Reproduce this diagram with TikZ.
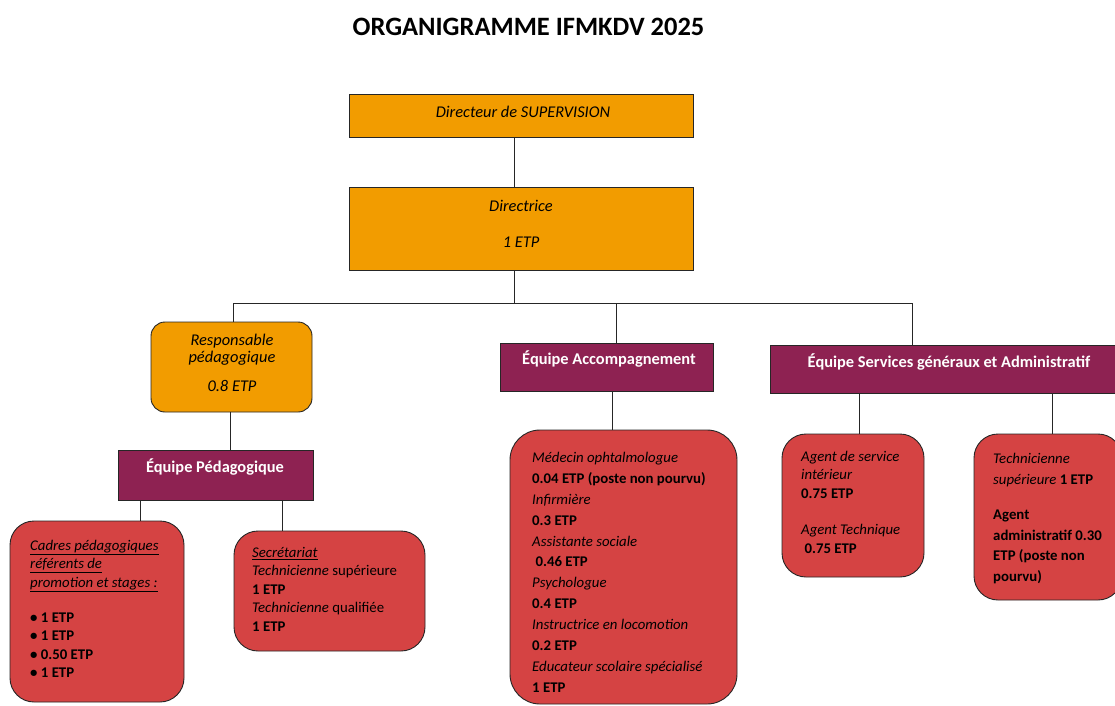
\documentclass[tikz,border=0pt]{standalone}
\usepackage{fontspec}
\setmainfont{Carlito}
\usetikzlibrary{positioning}
\definecolor{corange}{HTML}{F29C00}
\definecolor{cpurple}{HTML}{8E2252}
\definecolor{cred}{HTML}{D54343}
\definecolor{cline}{HTML}{262626}
\newcommand\tightlines{\lineskiplimit=-30pt\relax}

\tikzset{
  box/.style={draw=cline, line width=0.9pt, inner sep=0pt},
  orangebox/.style={box, fill=corange},
  purplebox/.style={box, fill=cpurple},
  redbox/.style={box, fill=cred, rounded corners=24pt},
  txt/.style={inner sep=0pt, align=left, anchor=north west, font={\fontsize{14.8}{18.5}\selectfont\tightlines}},
  ctxt/.style={inner sep=0pt, align=center, anchor=north, font={\fontsize{16.4}{14}\selectfont\tightlines\itshape}},
  head/.style={inner sep=0pt, text=white, font={\fontsize{16.4}{18}\selectfont\bfseries}},
  link/.style={draw=cline, line width=0.9pt},
}

\begin{document}
\begin{tikzpicture}[x=1pt, y=-1pt]
  \useasboundingbox[fill=white] (0,0) rectangle (1115,705);
  \clip (0,0) rectangle (1115,705);

  % title
  \node[font=\fontsize{26.5}{30}\selectfont\bfseries] (title) at (528.5,27) {ORGANIGRAMME IFMKDV 2025};

  % direction
  \node[orangebox, minimum width=344pt, minimum height=43pt] (dir) at (521,115.5) {};
  \node[ctxt] (dirtxt) at (523,106) {Directeur de SUPERVISION};
  \node[orangebox, minimum width=344pt, minimum height=83pt] (dirce) at (521,228.5) {};
  \node[ctxt] (dircetxt) at (521,200) {Directrice\\[22pt]1 ETP};

  % left branch
  \node[orangebox, rounded corners=14pt, minimum width=161pt, minimum height=90pt] (resp) at (231.5,367) {};
  \node[ctxt, font={\fontsize{16.4}{16.5}\selectfont\tightlines\itshape}] (resptxt) at (232,334) {Responsable\\pédagogique\\[12.5pt]0.8 ETP};
  \node[purplebox, minimum width=195pt, minimum height=50pt] (eqped) at (215.5,475) {};
  \node[head] (eqpedtxt) at (215,467) {Équipe Pédagogique};
  \node[redbox, minimum width=174pt, minimum height=181pt] (cadres) at (97,611.5) {};
  \node[txt] (cadrestxt) at (30,540) {\itshape\underline{Cadres pédagogiques}\\
    \itshape\underline{référents de}\\
    \itshape\underline{promotion et stages :}\\[16.5pt]
    \textbf{• 1 ETP}\\ \textbf{• 1 ETP}\\ \textbf{• 0.50 ETP}\\ \textbf{• 1 ETP}};
  \node[redbox, minimum width=191pt, minimum height=120pt] (secr) at (329.5,591) {};
  \node[txt] (secrtxt) at (252,547) {\textit{\underline{Secrétariat}}\\
    \textit{Technicienne} supérieure\\ \textbf{1 ETP}\\
    \textit{Technicienne} qualifiée\\ \textbf{1 ETP}};

  % middle branch
  \node[purplebox, minimum width=213pt, minimum height=48pt] (eqacc) at (606.5,367) {};
  \node[head] (eqacctxt) at (609,359) {Équipe Accompagnement};
  \node[redbox, rounded corners=30pt, minimum width=227pt, minimum height=274pt] (acc) at (623.5,567) {};
  \node[txt, font={\fontsize{14.8}{20.9}\selectfont}] (acctxt) at (532,452) {\textit{Médecin ophtalmologue}\\
    \textbf{0.04 ETP (poste non pourvu)}\\ \textit{Infirmière}\\ \textbf{0.3 ETP}\\
    \textit{Assistante sociale}\\ \textbf{\ 0.46 ETP}\\ \textit{Psychologue}\\ \textbf{0.4 ETP}\\
    \textit{Instructrice en locomotion}\\ \textbf{0.2 ETP}\\
    \textit{Educateur scolaire spécialisé}\\ \textbf{1 ETP}};

  % right branch
  \node[purplebox, minimum width=352pt, minimum height=48pt] (eqsg) at (946,369) {};
  \node[head] (eqsgtxt) at (949,362) {Équipe Services généraux et Administratif};
  \node[redbox, minimum width=142pt, minimum height=143pt] (agent) at (853,505.5) {};
  \node[txt] (agenttxt) at (801,451) {\textit{Agent de service}\\ \textit{intérieur}\\ \textbf{0.75 ETP}\\[17.7pt]
    \textit{Agent Technique}\\ \textbf{\ 0.75 ETP}};
  \node[redbox, minimum width=148pt, minimum height=166pt] (tech) at (1048,517) {};
  \node[txt, font={\fontsize{14.8}{20.6}\selectfont}] (techtxt) at (993,453) {\textit{Technicienne}\\
    \textit{supérieure} \textbf{1 ETP}\\[15pt]
    \textbf{Agent}\\ \textbf{administratif 0.30}\\ \textbf{ETP (poste non}\\ \textbf{pourvu)}};

  % connectors
  \coordinate (bus) at (514,303);
  \draw[link] ([xshift=-7pt]dir.south) -- ([xshift=-7pt]dirce.north);
  \draw[link] ([xshift=-7pt]dirce.south) -- (bus);
  \draw[link] (bus) -| ([xshift=1.5pt]resp.north);
  \draw[link] (bus) -| ([xshift=9.5pt]eqacc.north);
  \draw[link] (bus) -| ([xshift=-34pt]eqsg.north);
  \draw[link] (resp.south) ++(-1.5,0) coordinate (rp) -- (rp |- eqped.north);
  \draw[link] (eqped.south) ++(-75.5,0) coordinate (ep1) -- (ep1 |- cadres.north);
  \draw[link] (eqped.south) ++(66.5,0) coordinate (ep2) -- (ep2 |- secr.north);
  \draw[link] (eqacc.south) ++(5.5,0) coordinate (ea) -- (ea |- acc.north);
  \draw[link] (eqsg.south) ++(-87,0) coordinate (es1) -- (es1 |- agent.north);
  \draw[link] (eqsg.south) ++(106,0) coordinate (es2) -- (es2 |- tech.north);
\end{tikzpicture}
\end{document}
